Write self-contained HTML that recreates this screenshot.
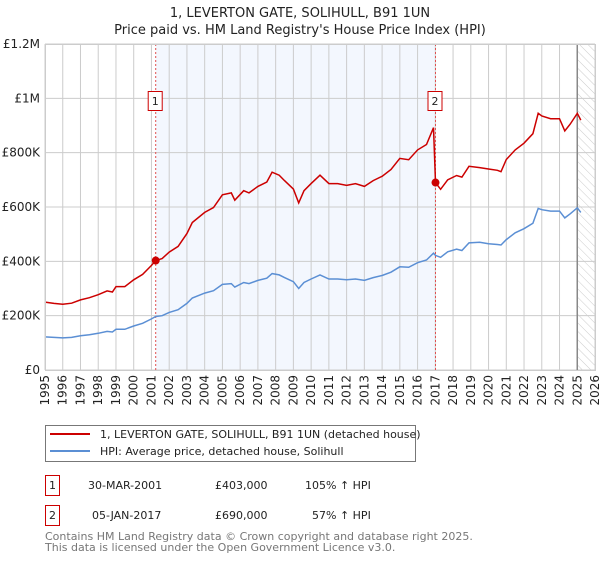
<!DOCTYPE html>
<html><head><meta charset="utf-8"><style>
body{margin:0;background:#fff;font-family:"Liberation Sans","DejaVu Sans",sans-serif;}
svg text{font-family:"DejaVu Sans","Liberation Sans",sans-serif;}
</style></head><body>
<svg id="c" width="600" height="560" xmlns="http://www.w3.org/2000/svg">
<defs><pattern id="hatch" width="6" height="6" patternUnits="userSpaceOnUse" patternTransform="rotate(-45)"><line x1="0" y1="0" x2="0" y2="6" stroke="#ccc" stroke-width="1"/></pattern></defs>
<text x="300" y="17" text-anchor="middle" font-size="13" fill="#222">1, LEVERTON GATE, SOLIHULL, B91 1UN</text>
<text x="300" y="34" text-anchor="middle" font-size="13" fill="#222">Price paid vs. HM Land Registry's House Price Index (HPI)</text>
<g id="plot"></g>
<g>
<rect x="45.5" y="425.5" width="370" height="36" fill="#fff" stroke="#777"/>
<line x1="50" y1="434" x2="90" y2="434" stroke="#cc0000" stroke-width="2"/>
<text x="100" y="438" font-size="11" fill="#222">1, LEVERTON GATE, SOLIHULL, B91 1UN (detached house)</text>
<line x1="50" y1="451" x2="90" y2="451" stroke="#5b8fd4" stroke-width="2"/>
<text x="100" y="455" font-size="11" fill="#222">HPI: Average price, detached house, Solihull</text>
</g>
<g font-size="11" fill="#222">
<rect x="45.5" y="475.5" width="14" height="20" fill="#fff" stroke="#cc0000"/><text x="52.5" y="489" text-anchor="middle">1</text>
<text x="88" y="489">30-MAR-2001</text><text x="215" y="489">£403,000</text><text x="305" y="489">105% ↑ HPI</text>
<rect x="45.5" y="505.5" width="14" height="20" fill="#fff" stroke="#cc0000"/><text x="52.5" y="519" text-anchor="middle">2</text>
<text x="92" y="519">05-JAN-2017</text><text x="215" y="519">£690,000</text><text x="312" y="519">57% ↑ HPI</text>
</g>
<text x="45" y="540" font-size="11" fill="#777">Contains HM Land Registry data © Crown copyright and database right 2025.</text>
<text x="45" y="551" font-size="11" fill="#777">This data is licensed under the Open Government Licence v3.0.</text>
</svg>
<script>
const dates=[1995.0,1995.5,1996.0,1996.5,1997.0,1997.5,1998.0,1998.5,1998.8,1999.0,1999.5,2000.0,2000.5,2001.0,2001.24,2001.6,2002.0,2002.5,2003.0,2003.3,2004.0,2004.5,2005.0,2005.5,2005.7,2006.2,2006.5,2007.0,2007.5,2007.8,2008.2,2008.5,2009.0,2009.3,2009.6,2010.0,2010.5,2011.0,2011.5,2012.0,2012.5,2013.0,2013.5,2014.0,2014.5,2015.0,2015.5,2016.0,2016.5,2016.9,2017.01,2017.3,2017.7,2018.2,2018.5,2018.9,2019.5,2020.0,2020.5,2020.7,2021.0,2021.5,2022.0,2022.5,2022.8,2023.0,2023.5,2024.0,2024.3,2024.6,2025.0,2025.2];
const hpiValues=[122,120,118,120,126,130,135,142,140,150,150,162,172,188,197,200,212,222,245,265,283,292,315,318,305,322,318,330,338,355,350,340,325,300,322,335,350,335,335,332,335,330,340,348,360,380,378,395,405,430,422,415,435,445,440,468,470,465,462,460,480,505,520,540,595,590,585,585,560,575,597,580];
const priceValues=[250,245,242,246,258,266,277,291,287,307,307,332,352,385,403,410,434,455,502,543,580,598,645,652,625,660,652,676,692,728,717,697,666,615,660,686,717,686,686,680,686,676,697,713,738,779,774,810,830,892,690,665,700,716,710,750,745,740,735,730,775,810,835,870,945,935,925,925,880,905,945,920];
const yTicks=[0,200,400,600,800,1000,1200];
const yTickLabels=["£0","£200K","£400K","£600K","£800K","£1M","£1.2M"];
const xYears=[1995,1996,1997,1998,1999,2000,2001,2002,2003,2004,2005,2006,2007,2008,2009,2010,2011,2012,2013,2014,2015,2016,2017,2018,2019,2020,2021,2022,2023,2024,2025,2026];
const saleDates=[2001.24,2017.01];
const salePrices=[403,690];
const saleLabels=["1","2"];
const NS="http://www.w3.org/2000/svg";
const L=45,R=595,T=44,B=370;
const x=v=>L+(v-1995)/(2026-1995)*(R-L);
const y=v=>B-v/1200*(B-T);
const g=document.getElementById('plot');
function mk(t,a,p){const e=document.createElementNS(NS,t);for(const k in a)e.setAttribute(k,a[k]);(p||g).appendChild(e);return e;}
let e=mk('rect',{x:x(saleDates[0]),y:T,width:x(saleDates[1])-x(saleDates[0]),height:B-T,fill:'#eef3fd',opacity:0.7});


e=mk('rect',{x:x(2025),y:T,width:R-x(2025),height:B-T,fill:'url(#hatch)'});


yTicks.forEach((t,i)=>{
  e=mk('line',{x1:L,x2:R,y1:y(t),y2:y(t),stroke:'#ccc','stroke-width':1});
  
  
  e=mk('text',{x:L-5,y:y(t)+4,'text-anchor':'end','font-size':12,fill:'#222'});
  e.textContent=yTickLabels[i];
  
  
});
xYears.forEach(yr=>{
  e=mk('line',{x1:x(yr),x2:x(yr),y1:T,y2:B,stroke:'#ccc','stroke-width':1});
  
  
  const tx=x(yr)+4,ty=B+5;
  e=mk('text',{x:tx,y:ty,'text-anchor':'end','font-size':12,fill:'#222',transform:`rotate(-90 ${tx} ${ty})`});
  e.textContent=yr;
  
  
});
e=mk('line',{x1:x(2025),x2:x(2025),y1:T,y2:B,stroke:'#888','stroke-width':1.5});


saleDates.forEach((d,i)=>{
  e=mk('line',{x1:x(d),x2:x(d),y1:T,y2:B,stroke:'#e05050','stroke-width':1,'stroke-dasharray':'2,2'});
  
  
});
const pts=a=>dates.map((d,i)=>x(d).toFixed(1)+','+y(a[i]).toFixed(1)).join(' ');
e=mk('polyline',{points:pts(hpiValues),fill:'none',stroke:'#5b8fd4','stroke-width':1.5});


e=mk('polyline',{points:pts(priceValues),fill:'none',stroke:'#cc0000','stroke-width':1.5});


saleDates.forEach((d,i)=>{
  e=mk('circle',{cx:x(d),cy:y(salePrices[i]),r:4,fill:'#cc0000'});
  
  
  e=mk('rect',{x:x(d)-7.5,y:91.5,width:14,height:19,fill:'#fff',stroke:'#cc0000'});
  
  
  e=mk('text',{x:x(d)-0.5,y:105,'text-anchor':'middle','font-size':11,fill:'#222'});
  e.textContent=saleLabels[i];
  
  
});
e=mk('rect',{x:L+0.5,y:T+0.5,width:R-L,height:B-T,fill:'none',stroke:'#ccc'});


</script>
</body></html>
